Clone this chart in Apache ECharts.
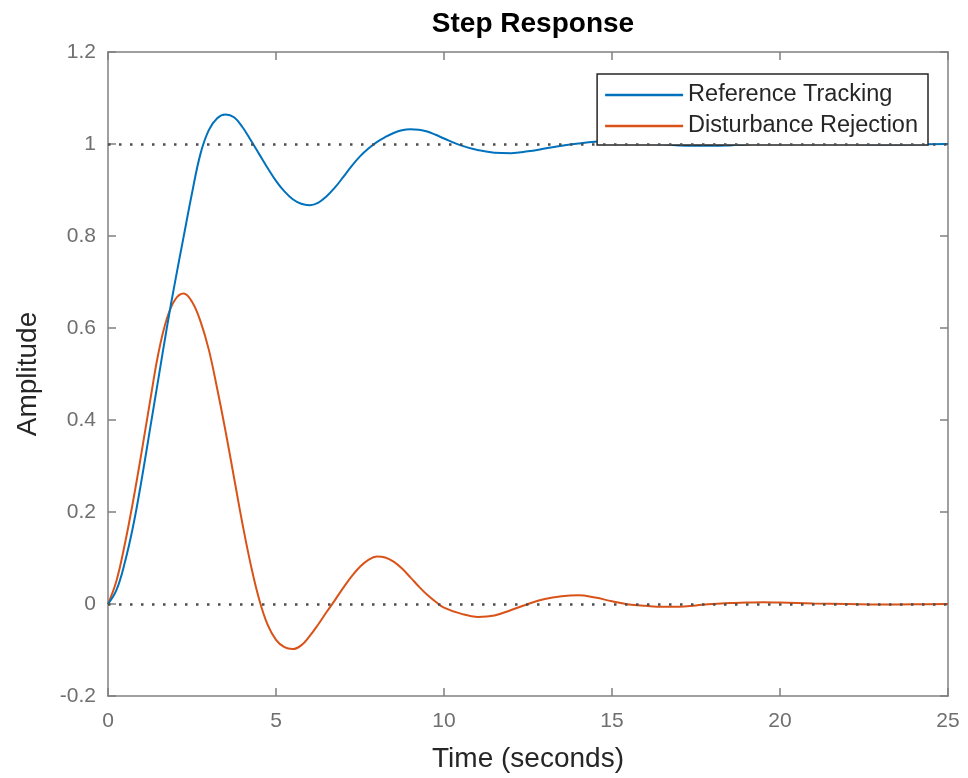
<!DOCTYPE html>
<html>
<head>
<meta charset="utf-8">
<script src="https://cdn.jsdelivr.net/npm/echarts@6/dist/echarts.min.js"></script>
<style>
html,body{margin:0;padding:0;background:#fff;}
#chart{width:968px;height:778px;}
</style>
</head>
<body>
<div id="chart"></div>
<script>
// Time samples (seconds)
var time = [0,0.25,0.5,0.75,1,1.25,1.5,1.75,2,2.25,2.5,2.75,3,3.25,3.5,3.75,4,4.25,4.5,4.75,5,5.25,5.5,5.75,6,6.25,6.5,6.75,7,7.25,7.5,7.75,8,8.25,8.5,8.75,9,9.25,9.5,9.75,10,
  10.5,11,11.5,12,12.5,13,13.5,14,14.5,15,15.5,16,16.5,17,17.5,18,18.5,19,19.5,20,
  21,22,23,24,25];
// Reference Tracking (blue)
var referenceTracking = [0,0.03,0.09,0.17,0.27,0.38,0.49,0.6,0.702,0.798,0.893,0.978,1.03,1.056,1.064,1.058,1.037,1.008,0.978,0.948,0.92,0.897,0.88,0.87,0.867,0.872,0.886,0.905,0.928,0.952,0.973,0.99,1.004,1.015,1.024,1.03,1.032,1.031,1.027,1.02,1.012,
  0.997,0.987,0.981,0.98,0.984,0.99,0.996,1.001,1.005,1.007,1.007,1.004,1.0,0.997,0.996,0.996,0.997,0.999,1.001,1.002,
  1.002,1.0,0.999,0.9995,1.0];
// Disturbance Rejection (orange)
var disturbanceRejection = [0,0.05,0.13,0.225,0.33,0.44,0.545,0.62,0.662,0.675,0.657,0.615,0.553,0.468,0.375,0.275,0.175,0.085,0.01,-0.045,-0.078,-0.094,-0.098,-0.09,-0.07,-0.045,-0.018,0.008,0.035,0.06,0.081,0.096,0.103,0.101,0.092,0.077,0.058,0.038,0.02,0.005,-0.008,
  -0.021,-0.028,-0.025,-0.013,0.0,0.011,0.017,0.019,0.014,0.006,-0.001,-0.004,-0.006,-0.006,-0.003,0.0,0.002,0.003,0.004,0.003,
  0.001,0,-0.001,-0.0005,0];
var xTicks = [0,5,10,15,20,25];
var yTicks = [-0.2,0,0.2,0.4,0.6,0.8,1,1.2];
var seriesNames = ['Reference Tracking','Disturbance Rejection'];
var colors = ['#0072BD','#D95319'];

function pairs(vals){ return time.map(function(t,i){ return [t, vals[i]]; }); }

var FONT = '"Liberation Sans", Arial, Helvetica, sans-serif';
var axisGray = '#808080';
var labelGray = '#6f6f6f';

var chart = echarts.init(document.getElementById('chart'), null, {renderer:'canvas'});
var baseX = {
  type:'value', min:xTicks[0], max:xTicks[xTicks.length-1], interval:5,
  axisLine:{show:true, onZero:false, lineStyle:{color:axisGray, width:1.5}},
  axisTick:{show:true, inside:true, length:8, lineStyle:{color:axisGray, width:1.5}},
  splitLine:{show:false}
};
var baseY = {
  type:'value', min:yTicks[0], max:yTicks[yTicks.length-1], interval:0.2,
  axisLine:{show:true, onZero:false, lineStyle:{color:axisGray, width:1.5}},
  axisTick:{show:true, inside:true, length:8, lineStyle:{color:axisGray, width:1.5}},
  splitLine:{show:false}
};
chart.setOption({
  animation:false,
  backgroundColor:'#ffffff',
  title:{
    text:'Step Response', left:528, top:5, textAlign:'center',
    textStyle:{fontFamily:FONT, fontSize:28, fontWeight:'bold', color:'#000'}
  },
  grid:{left:108, right:20, top:52, bottom:81, containLabel:false},
  legend:{
    orient:'vertical', right:40, top:74,
    backgroundColor:'#ffffff', borderColor:'#262626', borderWidth:1.5,
    padding:[9,10,7,8], itemGap:7, itemWidth:78, itemHeight:2.5,
    icon:'rect',
    textStyle:{fontFamily:FONT, fontSize:23.5, color:'#262626'},
    data:seriesNames
  },
  xAxis:[
    Object.assign({}, baseX, {
      position:'bottom',
      axisLabel:{show:true, color:labelGray, fontSize:21, fontFamily:FONT, margin:15},
      name:'Time (seconds)', nameLocation:'middle', nameGap:49,
      nameTextStyle:{fontFamily:FONT, fontSize:28, color:'#262626'}
    }),
    Object.assign({}, baseX, {position:'top', axisLabel:{show:false}})
  ],
  yAxis:[
    Object.assign({}, baseY, {
      position:'left',
      axisLabel:{show:true, color:labelGray, fontSize:21, fontFamily:FONT, margin:12,
        formatter:function(v){ return String(+v.toFixed(1)); }},
      name:'Amplitude', nameLocation:'middle', nameGap:66, nameRotate:90,
      nameTextStyle:{fontFamily:FONT, fontSize:28, color:'#262626'}
    }),
    Object.assign({}, baseY, {position:'right', axisLabel:{show:false}})
  ],
  series:[
    {
      name:seriesNames[0], type:'line', data:pairs(referenceTracking),
      showSymbol:false, smooth:0.4, color:colors[0],
      lineStyle:{color:colors[0], width:2},
      z:3,
      markLine:{
        silent:true, symbol:'none', label:{show:false},
        lineStyle:{color:'#4d4d4d', type:[2.5,8.5], width:2.5},
        data:[{yAxis:0},{yAxis:1}]
      }
    },
    {
      name:seriesNames[1], type:'line', data:pairs(disturbanceRejection),
      showSymbol:false, smooth:0.4, color:colors[1],
      lineStyle:{color:colors[1], width:2},
      z:2
    }
  ]
});
</script>
</body>
</html>
